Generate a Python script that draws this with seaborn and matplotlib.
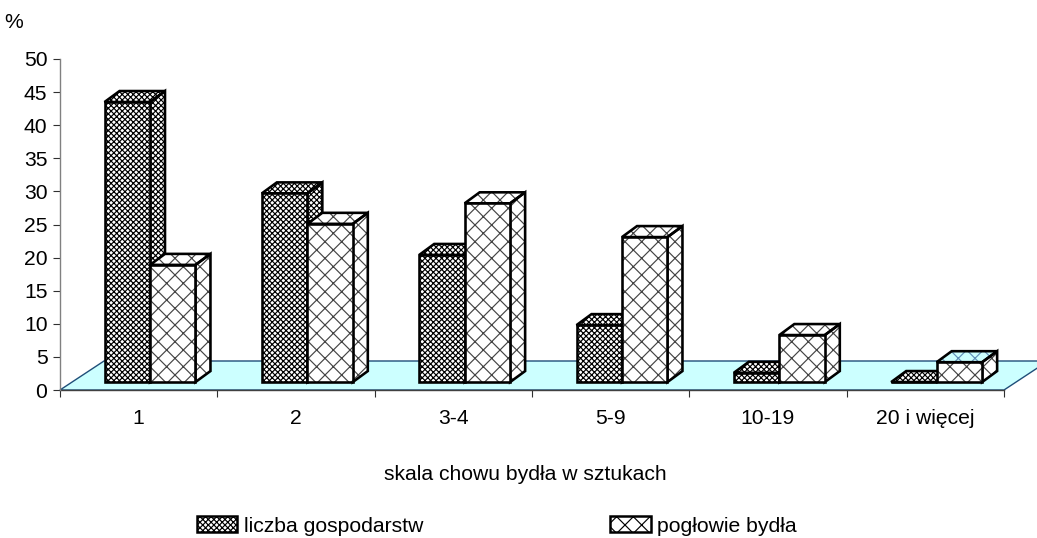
import matplotlib
matplotlib.use("Agg")
import matplotlib.pyplot as plt
import seaborn as sns
import pandas as pd
from matplotlib.patches import Polygon, Patch

categories = ["1", "2", "3-4", "5-9", "10-19", "20 i więcej"]
gospodarstwa = [42.3, 28.5, 19.2, 8.6, 1.4, 0.0]
poglowie = [17.7, 23.9, 27.0, 21.9, 7.1, 3.0]
series_names = ["liczba gospodarstw", "pogłowie bydła"]
y_ticks = list(range(0, 55, 5))

W, H = 1037, 538
sns.set_theme(style="white")
plt.rcParams["font.family"] = ["Liberation Sans", "DejaVu Sans"]
plt.rcParams["hatch.linewidth"] = 0.85

fig = plt.figure(figsize=(W / 100, H / 100), dpi=100)
ax = fig.add_axes([60 / W, (H - 390) / H, 944 / W, 331 / H])

df = pd.DataFrame({
    "kat": categories * 2,
    "seria": [series_names[0]] * 6 + [series_names[1]] * 6,
    "val": gospodarstwa + poglowie,
})
BASE = 1.2          # front edge of the floor, in value units
sns.barplot(data=df, x="kat", y="val", hue="seria", order=categories,
            hue_order=series_names, width=0.578, gap=0, dodge=True,
            bottom=BASE, legend=False, ax=ax)
ax.set_xlim(-0.5, 5.5)
ax.set_ylim(0, 50)

SHIFT = 0.072
DX = 15 / 157.3
DY = 11 / 6.62
STYLE = {0: dict(hatch="xxxxxx", edge="#000000"), 1: dict(hatch="xx", edge="#444444")}
OUT = 2.6

# floor
SK = 44 / 157.3
ax.add_patch(Polygon([(-0.5, 0), (5.5, 0), (5.5 + SK, 29 / 6.62), (-0.5 + SK, 29 / 6.62)],
                     closed=True, facecolor="#CCFFFF", edgecolor="#1F4E79", lw=1.0,
                     clip_on=False, zorder=1))

bars = [b for b in ax.patches if not isinstance(b, Polygon)]
z = 3
for i in range(6):
    for s in range(2):
        b = bars[s * 6 + i]
        st = STYLE[s]
        b.set_x(b.get_x() + SHIFT)
        x0, x1 = b.get_x(), b.get_x() + b.get_width()
        y0, y1 = BASE, BASE + b.get_height()
        side = [(x1, y0), (x1 + DX, y0 + DY), (x1 + DX, y1 + DY), (x1, y1)]
        top = [(x0, y1), (x1, y1), (x1 + DX, y1 + DY), (x0 + DX, y1 + DY)]
        for pts in (side, top):
            see_through = i == 5 and s == 1 and pts is top
            ax.add_patch(Polygon(pts, closed=True, facecolor="#CCFFFF" if see_through else "white",
                                 edgecolor="#5F8FB8" if see_through else st["edge"],
                                 hatch=st["hatch"], lw=0, zorder=z, clip_on=False))
            ax.add_patch(Polygon(pts, closed=True, fill=False, edgecolor="black",
                                 lw=OUT * 0.72, zorder=z + 1, clip_on=False, joinstyle="miter"))
        b.set_facecolor("white")
        b.set_edgecolor(st["edge"])
        b.set_hatch(st["hatch"])
        b.set_linewidth(0)
        b.set_zorder(z + 2)
        b.set_clip_on(False)
        ax.add_patch(Polygon([(x0, y0), (x1, y0), (x1, y1), (x0, y1)], closed=True, fill=False,
                             edgecolor="black", lw=OUT * 0.72, zorder=z + 3, clip_on=False,
                             joinstyle="miter"))
        z += 4

for sp in ("top", "right"):
    ax.spines[sp].set_visible(False)
ax.spines["left"].set_color("#808080")
ax.spines["left"].set_linewidth(1.0)
ax.spines["bottom"].set_color("#404040")
ax.spines["bottom"].set_linewidth(1.0)
ax.spines["bottom"].set_zorder(2)
ax.set_yticks(y_ticks)
ax.set_xticks([i - 0.5 for i in range(7)], minor=False)
ax.set_xticklabels([""] * 7)
ax.tick_params(axis="both", which="major", direction="out", length=5, width=0.8,
               color="#303030", left=True, bottom=True, labelsize=15.2, labelcolor="black", pad=4)
for i, c in enumerate(categories):
    ax.text(i, -4.25, c, ha="center", va="center", fontsize=15.2, color="black")
ax.set_xlabel("")
ax.set_ylabel("")

fig.text(14 / W, 1 - 22 / H, "%", ha="center", va="center", fontsize=15.2, color="black")
fig.text(525 / W, 1 - 475 / H, "skala chowu bydła w sztukach", ha="center", va="center",
         fontsize=15.2, color="black")

handles = [Patch(facecolor="white", edgecolor="black", hatch=STYLE[k]["hatch"], lw=1.8)
           for k in (0, 1)]
fig.legend(handles, series_names, loc="center left", bbox_to_anchor=(195 / W, 1 - 526 / H),
           ncol=2, frameon=False, fontsize=15.2, labelcolor="black", handlelength=1.9,
           handleheight=0.8, handletextpad=0.33, columnspacing=8.85, borderpad=0.1,
           borderaxespad=0)

fig.savefig("out.png", dpi=100)
